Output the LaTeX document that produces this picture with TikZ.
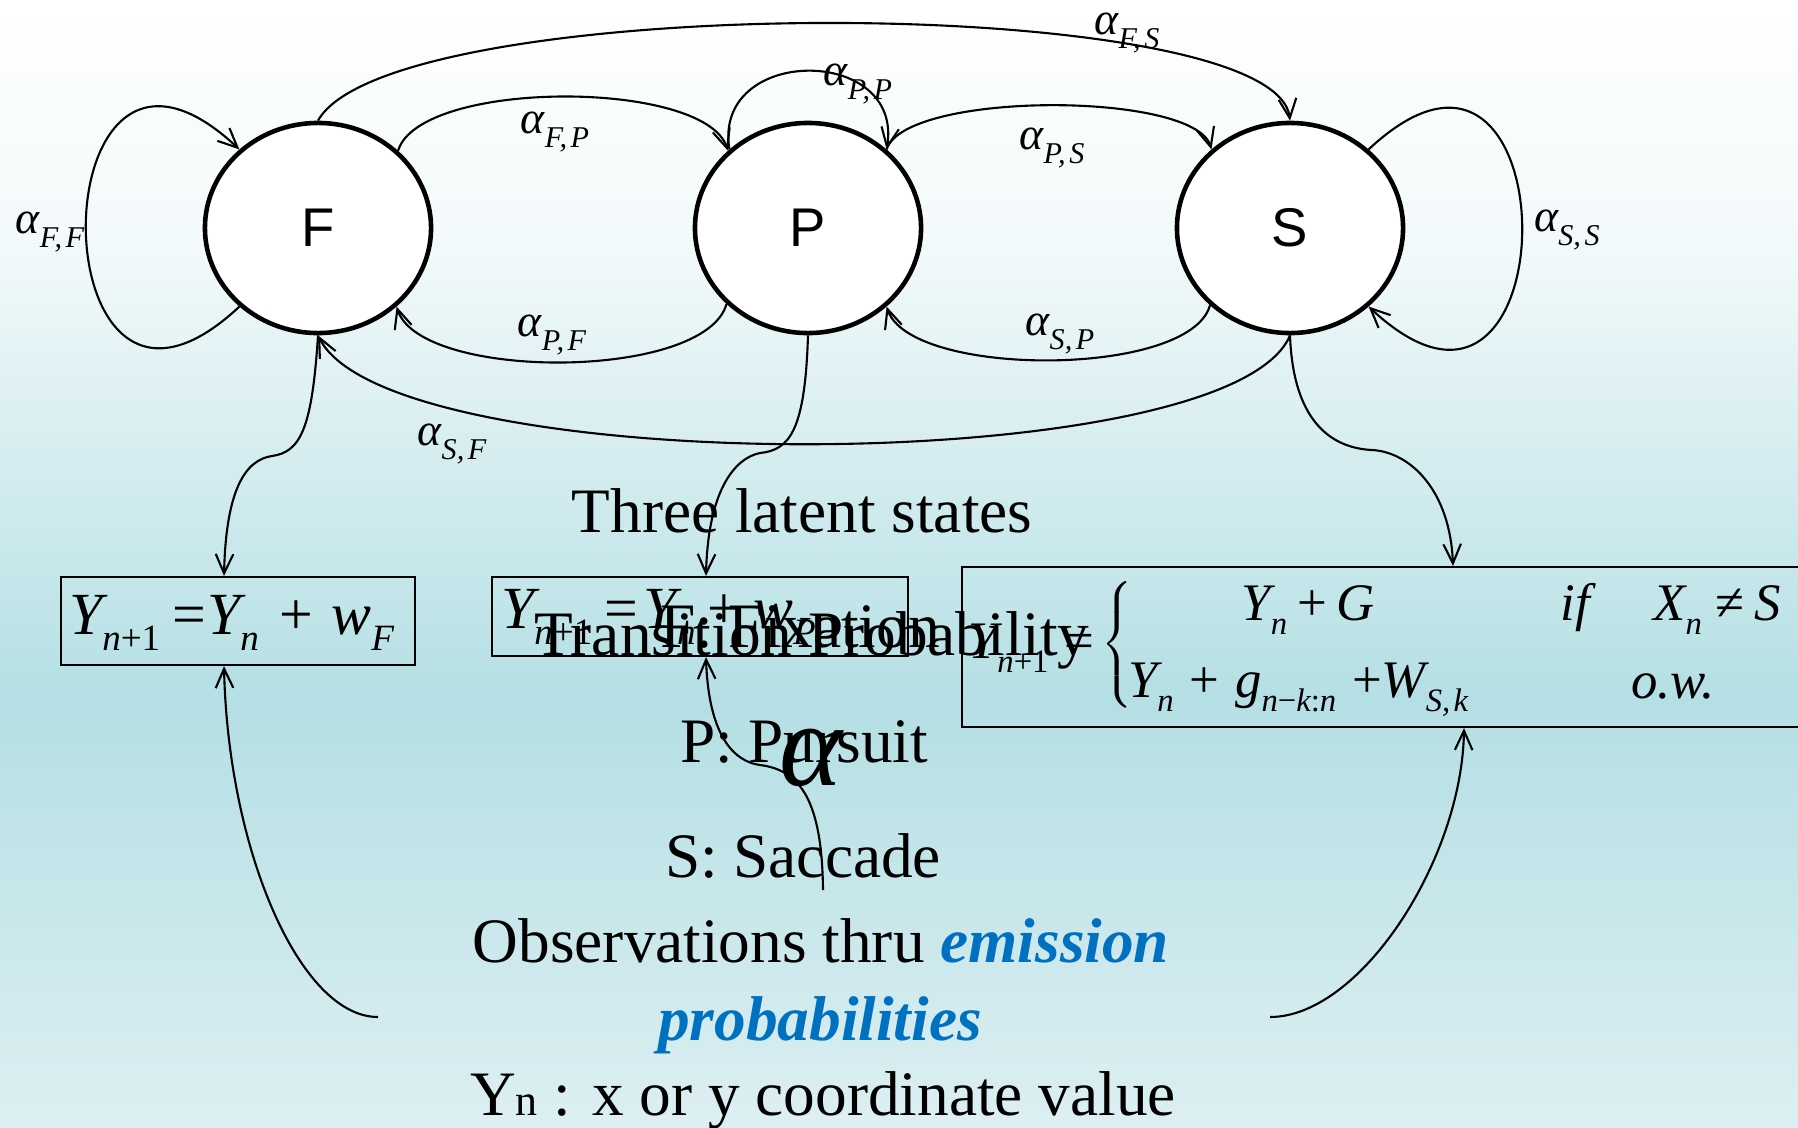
\documentclass[tikz,border=0pt]{standalone}
\usepackage{fontspec}
\setmainfont{Liberation Serif}
\newfontfamily\statefont{Liberation Sans}
\usetikzlibrary{shapes.geometric,arrows.meta}
\definecolor{embl}{HTML}{0070C0}
\definecolor{bgtop}{HTML}{F2F9FA}
\definecolor{bgmid}{HTML}{B4DFE4}
\definecolor{bgbot}{HTML}{DDEFF2}
\newcommand{\lowsub}[1]{\raisebox{-0.27em}{\scalebox{0.62}{#1}}}
\newcommand{\trans}[2]{{\itshape α\raisebox{-0.3em}{\scalebox{0.66}{#1,\hspace{0.12em}#2}}}}
\tikzset{
  state/.style={ellipse,draw,line width=1.3pt,fill=white,minimum width=2.26cm,minimum height=2.10cm,inner sep=0pt,font=\statefont\fontsize{15.5}{15.5}\selectfont},
  lab/.style={font=\fontsize{13}{13}\selectfont,inner sep=0pt},
  bigtxt/.style={font=\fontsize{18}{18}\selectfont,inner sep=0pt,anchor=base},
  eqbox/.style={draw,line width=0.6pt,inner sep=0pt},
  eqtxt/.style={font=\fontsize{17}{17}\selectfont,inner sep=0pt,anchor=base},
  casetxt/.style={font=\fontsize{15}{15}\selectfont,inner sep=0pt,anchor=base}
}
\begin{document}
\begin{tikzpicture}[x=0.01cm,y=-0.01cm,line width=0.6pt,>={Straight Barb[length=5.5pt,width=5pt]}]
%\draw[help lines,step=100] (0,0) grid (1798,1127); %pixel grid
\useasboundingbox (0,0) rectangle (1798,1127);
\clip (0,0) rectangle (1798,1127);
\shade[top color=white,bottom color=bgtop] (0,0) rectangle (1798,251);
\shade[top color=bgtop,bottom color=bgmid] (0,250) rectangle (1798,701);
\shade[top color=bgmid,bottom color=bgbot] (0,700) rectangle (1798,1127);

\node[state] (F) at (318,228) {F};
\node[state] (P) at (808,228) {P};
\node[state] (S) at (1290,228) {S};

% transitions
\draw[->] (F.225) .. controls (35,498) and (35,-42) .. (F.135);
\draw[->] (S.45) .. controls (1573,-42) and (1573,498) .. (S.-45);
\draw[->] (F.44) .. controls (420,79) and (705,79) .. (P.136);
\draw[->] (P.223) .. controls (705,381) and (420,381) .. (F.-45);
\draw[->] (P.135) .. controls (712,45) and (904,45) .. (P.45);
\draw[->] (P.45) .. controls (905,91) and (1195,91) .. (S.135);
\draw[->] (S.224) .. controls (1190,378) and (910,378) .. (P.-45);
\draw[->] (F.90) .. controls (390,-9) and (1275,-9) .. (S.90);
\draw[->] (S.270) .. controls (1230,480) and (390,480) .. (F.270);

\node[lab] (aFS) at (1127,33) {\trans{F}{S}};
\node[lab] (aFP) at (555,132) {\trans{F}{P}};
\node[lab] (aPP) at (858,84) {\trans{P}{P}};
\node[lab] (aPS) at (1052,148) {\trans{P}{S}};
\node[lab] (aFF) at (50,232) {\trans{F}{F}};
\node[lab] (aSS) at (1567,230) {\trans{S}{S}};
\node[lab] (aPF) at (552,335) {\trans{P}{F}};
\node[lab] (aSP) at (1060,334) {\trans{S}{P}};
\node[lab] (aSF) at (452,444) {\trans{S}{F}};

% emission boxes
\node[eqbox,minimum width=3.54cm,minimum height=0.88cm] (box1) at (238,621) {};
\node[eqbox,minimum width=4.16cm,minimum height=0.79cm] (box2) at (700,616.5) {};
\node[eqbox,minimum width=8.68cm,minimum height=1.60cm] (box3) at (1396,647) {};

\node[eqtxt,anchor=base west] (eq1) at (68,634) {\itshape Y\lowsub{n\upshape{+}1}\hspace{.2em}{\upshape=}\hspace{.02em}Y\lowsub{n}\hspace{.35em}{\upshape+}\hspace{.3em}w\lowsub{F}};
\node[eqtxt,anchor=base west] (eq2) at (500,628) {\itshape Y\lowsub{n\upshape{+}1}\hspace{.2em}{\upshape=}\hspace{.1em}Y\lowsub{n}\hspace{.2em}{\upshape+}\hspace{.2em}w\lowsub{P}};
\node[casetxt,anchor=base west] (lhs3) at (967,658) {\itshape Y\lowsub{n\upshape{+}1}\hspace{.3em}{\upshape=}};
\node[inner sep=0pt] (brace3) at (1119,647) {$\left\{\rule[-17pt]{0pt}{37pt}\right.$};
\node[casetxt] (r1a) at (1308,620) {\itshape Y\lowsub{n}\hspace{.2em}{\upshape+}\,G};
\node[casetxt] (r1b) at (1671,620) {\itshape if\hspace{1.2em}X\lowsub{n}\hspace{.25em}{\upshape≠}\hspace{.2em}S};
\node[casetxt,anchor=base west] (r2a) at (1127,697) {\itshape Y\lowsub{n}\hspace{.3em}{\upshape+}\hspace{.3em}g\lowsub{n{\upshape−}k{\upshape:}n}\hspace{.3em}{\upshape+}W\lowsub{S,\hspace{.1em}k}};
\node[casetxt] (r2b) at (1673,698) {\itshape o.w.};

\coordinate (obsW) at (378,1017);
\coordinate (obsN) at (823,890);
\coordinate (obsE) at (1270,1017);

\draw[->] (F.south) .. controls (312,430) and (300,452) .. (272,456) .. controls (245,460) and (226,490) .. (224,0 |- box1.north);
\draw[->] (P.south) .. controls (805,430) and (790,450) .. (760,453) .. controls (735,458) and (708,490) .. (706,0 |- box2.north);
\draw[->] (S.south) .. controls (1293,420) and (1330,448) .. (1372,450) .. controls (1410,452) and (1450,490) .. (1453,0 |- box3.north);
\draw[->] (obsW) .. controls (300,1017) and (228,850) .. (224,0 |- box1.south);
\draw[->] (obsN) .. controls (822,800) and (800,770) .. (760,765) .. controls (725,760) and (708,720) .. (706,0 |- box2.south);
\draw[->] (obsE) .. controls (1360,1017) and (1462,860) .. (1464,0 |- box3.south);

% slide text
\node[bigtxt] (three) at (802,532) {Three latent states};
\node[bigtxt] (fix) at (800,647) {F: Fixation};
\node[bigtxt] (tp) at (812,655) {Transition Probability};
\node[bigtxt] (purs) at (804,762) {P: Pursuit};
\node[bigtxt] (sacc) at (803,877) {S: Saccade};
\node[bigtxt] (obs1) at (821,962) {Observations thru \textcolor{embl}{\bfseries\itshape emission}};
\node[bigtxt] (obs2) at (820,1040) {\textcolor{embl}{\bfseries\itshape probabilities}};
\node[bigtxt] (yn) at (823,1115) {Y{\fontsize{12.5}{12.5}\selectfont n} : x or y coordinate value};
\node[inner sep=0pt,font=\fontsize{34}{34}\selectfont\itshape] (alph) at (811,758) {α};
\end{tikzpicture}
\end{document}
